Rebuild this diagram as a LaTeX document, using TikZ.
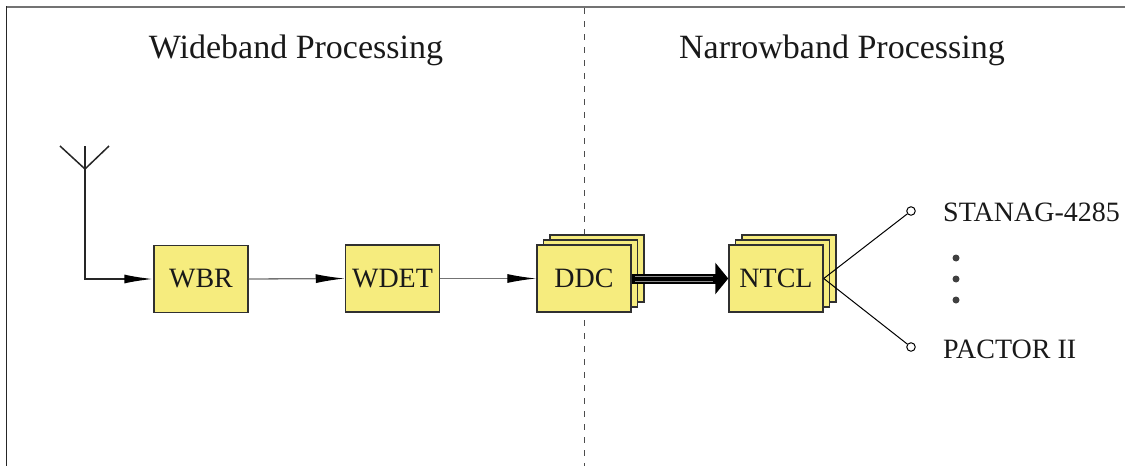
\documentclass[tikz,border=0pt]{standalone}
\usepackage{fontspec}
\setmainfont{Liberation Serif}
\usetikzlibrary{arrows.meta}
\definecolor{boxyellow}{HTML}{F6EC7E}
\definecolor{edgegray}{HTML}{303030}
\tikzset{
  blk/.style={draw=edgegray, line width=1.5pt, fill=boxyellow, minimum width=94pt, minimum height=67pt, inner sep=0pt, font=\fontsize{28}{30}\selectfont, text=black!90},
  sig/.style={draw=black!55, line width=1.3pt, -{Latex[length=29pt,width=9pt,black]}},
  term/.style={circle, draw=black, line width=1pt, fill=white, minimum size=8.5pt, inner sep=0pt},
  lbl/.style={inner sep=0pt, font=\fontsize{28}{30}\selectfont, text=black!90},
  hdr/.style={inner sep=0pt, font=\fontsize{34}{36}\selectfont, text=black!90},
  dotnode/.style={circle, fill=black!75, minimum size=7pt, inner sep=0pt}
}
\begin{document}
\begin{tikzpicture}[x=1pt,y=-1pt]
\useasboundingbox (0,0) rectangle (1125,466);
% frame
\draw[black!55, line width=2pt] (6,7) -- (1125,7);
\draw[black!85, line width=1.5pt] (6.5,6) -- (6.5,466);
% divider
\draw[black!70, line width=1pt, dash pattern=on 6pt off 7pt] (584.5,8) -- (584.5,466);
% headers
\node[hdr, anchor=base] (hw) at (296,58) {Wideband Processing};
\node[hdr, anchor=base] (hn) at (842,58) {Narrowband Processing};
% antenna
\coordinate (aj) at (85,169);
\coordinate (al) at (60,146);
\coordinate (ar) at (109,146);
\coordinate (at) at (85,146);
\coordinate (ab) at (85,279);
\draw[black!85, line width=1.5pt] (al) -- (aj) -- (ar);
\draw[black!85, line width=1.5pt] (at) -- (aj);
% blocks
\node[blk] (wbr) at (201,279) {WBR};
\node[blk] (wdet) at (392.5,278.5) {WDET};
\node[blk] (ddc3) at (597,268.5) {};
\node[blk] (ddc2) at (590.5,273.5) {};
\node[blk] (ddc) at (584,278.5) {DDC};
\node[blk] (ntcl3) at (789,268.5) {};
\node[blk] (ntcl2) at (782.5,273.5) {};
\node[blk] (ntcl) at (776,278.5) {NTCL};
% connectors
\draw[black!85, line width=1.8pt, -{Latex[length=29pt,width=9pt,black]}] (aj) -- (ab) -- (wbr.west);
\draw[sig] (wbr.east) -- (wdet.west);
\draw[sig] (wdet.east) -- (ddc.west);
\draw[black, line width=10pt, -{Triangle[length=13pt,width=31pt]}] (ddc.east) -- (ntcl.west);
\draw[black!45, line width=0.6pt] ([xshift=3pt,yshift=-2.5pt]ddc.east) -- ([xshift=-15pt,yshift=-2.5pt]ntcl.west);
\draw[black!45, line width=0.6pt] ([xshift=3pt,yshift=2.5pt]ddc.east) -- ([xshift=-15pt,yshift=2.5pt]ntcl.west);
% outputs
\node[term] (t1) at (911,211) {};
\node[term] (t2) at (911,347) {};
\draw[black, line width=1pt] (ntcl.east) -- (t1);
\draw[black, line width=1pt] (ntcl.east) -- (t2);
\node[lbl, anchor=west] (s1) at (943,212) {STANAG-4285};
\node[lbl, anchor=west] (s2) at (943,349) {PACTOR II};
\node[dotnode] (d1) at (956,258) {};
\node[dotnode] (d2) at (956,279) {};
\node[dotnode] (d3) at (956,300) {};
\end{tikzpicture}
\end{document}
